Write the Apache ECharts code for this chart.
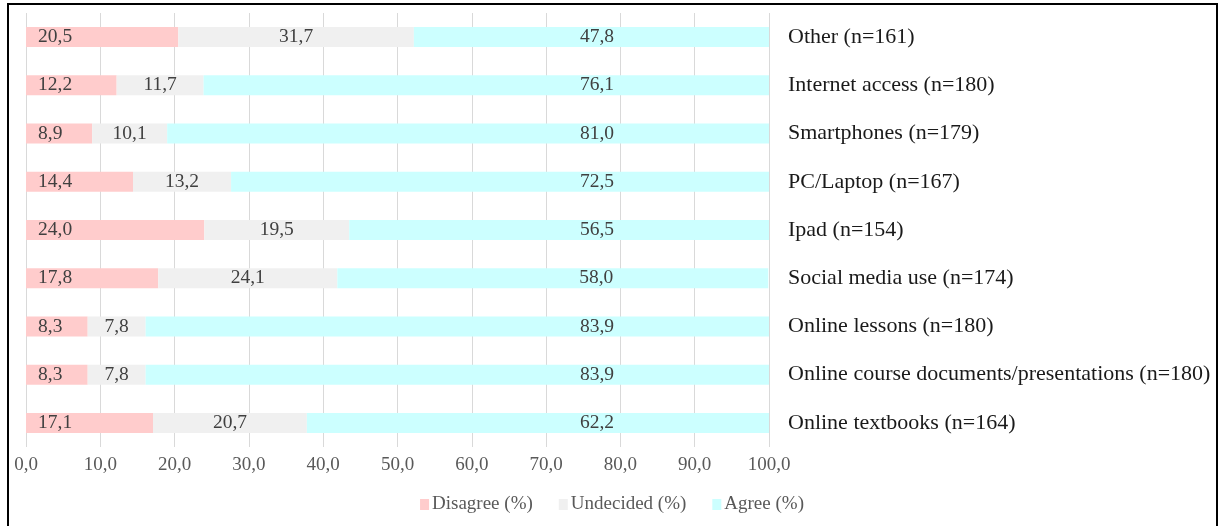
<!DOCTYPE html>
<html>
<head>
<meta charset="utf-8">
<script src="https://cdn.jsdelivr.net/npm/echarts@6/dist/echarts.min.js"></script>
<style>
html,body{margin:0;padding:0;background:#fff;overflow:hidden;}
#frame{position:absolute;left:7px;top:3px;width:1207px;height:560px;border:2.5px solid #000;box-sizing:content-box;}
#chart{position:absolute;left:0;top:0;width:1224px;height:526px;}
</style>
</head>
<body>
<div id="frame"></div>
<div id="chart"></div>
<script>
const categories = [
  "Other (n=161)",
  "Internet access (n=180)",
  "Smartphones (n=179)",
  "PC/Laptop (n=167)",
  "Ipad (n=154)",
  "Social media use (n=174)",
  "Online lessons (n=180)",
  "Online course documents/presentations (n=180)",
  "Online textbooks (n=164)"
];
const disagree  = [20.5, 12.2, 8.9, 14.4, 24.0, 17.8, 8.3, 8.3, 17.1];
const undecided = [31.7, 11.7, 10.1, 13.2, 19.5, 24.1, 7.8, 7.8, 20.7];
const agree     = [47.8, 76.1, 81.0, 72.5, 56.5, 58.0, 83.9, 83.9, 62.2];
const seriesNames = ["Disagree (%)", "Undecided (%)", "Agree (%)"];

const FONT = "'Liberation Serif', 'Times New Roman', serif";
const fmt = v => v.toFixed(1).replace('.', ',');

const chart = echarts.init(document.getElementById('chart'), null, {renderer: 'canvas'});
const labelBase = {show: true, fontFamily: FONT, fontSize: 19.5, color: '#404040', formatter: p => fmt(p.value)};

chart.setOption({
  animation: false,
  backgroundColor: 'transparent',
  grid: {left: 26, right: 455, top: 13, bottom: 79, containLabel: false},
  xAxis: {
    type: 'value', min: 0, max: 100, interval: 10,
    axisLine: {show: false}, axisTick: {show: false},
    splitLine: {show: true, lineStyle: {color: '#D9D9D9', width: 1}},
    axisLabel: {fontFamily: FONT, fontSize: 19, color: '#595959', margin: 9, formatter: v => fmt(v)}
  },
  yAxis: {
    type: 'category', data: categories, inverse: true, position: 'right',
    axisLine: {show: false}, axisTick: {show: false},
    axisLabel: {fontFamily: FONT, fontSize: 22, color: '#1a1a1a', margin: 19, align: 'left'}
  },
  legend: {
    data: seriesNames, bottom: 7, left: 'center',
    itemWidth: 9, itemHeight: 11, itemGap: 26, icon: 'rect',
    textStyle: {fontFamily: FONT, fontSize: 19, color: '#595959', padding: [0,0,0,-2]}
  },
  series: [
    {name: seriesNames[0], type: 'bar', stack: 's', data: disagree, barWidth: 20,
     itemStyle: {color: '#FFCCCC'},
     label: Object.assign({}, labelBase, {position: 'insideLeft', distance: 12})},
    {name: seriesNames[1], type: 'bar', stack: 's', data: undecided, barWidth: 20,
     itemStyle: {color: '#F0F0F0'},
     label: Object.assign({}, labelBase, {position: 'inside'})},
    {name: seriesNames[2], type: 'bar', stack: 's', data: agree, barWidth: 20,
     itemStyle: {color: '#CCFFFF'},
     label: Object.assign({}, labelBase, {position: 'insideRight', distance: 155})}
  ]
});
</script>
</body>
</html>
